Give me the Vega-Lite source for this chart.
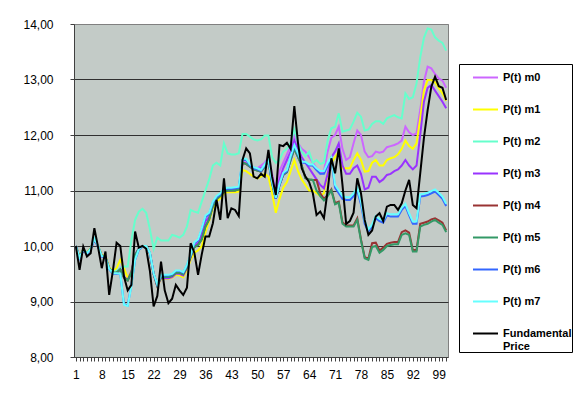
{
"$schema": "https://vega.github.io/schema/vega-lite/v6.json",
"width": 374, "height": 333,
"autosize": "none",
"padding": {"left": 74, "top": 24, "right": 134, "bottom": 42},
"background": "white",
"config": {"font": "Liberation Sans", "view": {"fill": "#C3CBC7", "stroke": "#808080", "strokeWidth": 1}},
"data": {"values": [
{"t":1,"m0":10.0,"m1":10.0,"m2":10.0,"m3":10.0,"m4":10.0,"m5":10.0,"m6":10.0,"m7":10.0,"F":10.0},
{"t":2,"m0":9.8,"m1":9.82,"m2":9.8,"m3":9.79,"m4":9.8,"m5":9.8,"m6":9.78,"m7":9.79,"F":9.57},
{"t":3,"m0":9.93,"m1":9.94,"m2":9.93,"m3":9.92,"m4":9.93,"m5":9.93,"m6":9.92,"m7":9.93,"F":9.99},
{"t":4,"m0":9.87,"m1":9.88,"m2":9.87,"m3":9.86,"m4":9.87,"m5":9.87,"m6":9.86,"m7":9.87,"F":9.81},
{"t":5,"m0":9.95,"m1":9.96,"m2":9.95,"m3":9.94,"m4":9.95,"m5":9.95,"m6":9.94,"m7":9.95,"F":9.87},
{"t":6,"m0":10.12,"m1":10.12,"m2":10.13,"m3":10.11,"m4":10.12,"m5":10.12,"m6":10.12,"m7":10.13,"F":10.32},
{"t":7,"m0":10.0,"m1":10.0,"m2":10.0,"m3":9.99,"m4":10.0,"m5":10.0,"m6":9.99,"m7":10.0,"F":9.98},
{"t":8,"m0":9.82,"m1":9.84,"m2":9.82,"m3":9.81,"m4":9.82,"m5":9.82,"m6":9.81,"m7":9.82,"F":9.6},
{"t":9,"m0":9.8,"m1":9.82,"m2":9.8,"m3":9.79,"m4":9.8,"m5":9.8,"m6":9.79,"m7":9.8,"F":9.9},
{"t":10,"m0":9.6,"m1":9.62,"m2":9.6,"m3":9.59,"m4":9.6,"m5":9.6,"m6":9.58,"m7":9.59,"F":9.12},
{"t":11,"m0":9.52,"m1":9.55,"m2":9.53,"m3":9.51,"m4":9.52,"m5":9.52,"m6":9.5,"m7":9.51,"F":9.55},
{"t":12,"m0":9.52,"m1":9.6,"m2":9.55,"m3":9.51,"m4":9.52,"m5":9.52,"m6":9.5,"m7":9.51,"F":10.06},
{"t":13,"m0":9.6,"m1":9.75,"m2":9.6,"m3":9.58,"m4":9.58,"m5":9.58,"m6":9.5,"m7":9.5,"F":10.0},
{"t":14,"m0":9.45,"m1":9.6,"m2":9.63,"m3":9.44,"m4":9.43,"m5":9.43,"m6":8.95,"m7":8.94,"F":9.45},
{"t":15,"m0":9.4,"m1":9.42,"m2":9.63,"m3":9.39,"m4":9.38,"m5":9.38,"m6":8.93,"m7":8.92,"F":9.2},
{"t":16,"m0":9.55,"m1":9.55,"m2":10.1,"m3":9.54,"m4":9.52,"m5":9.52,"m6":9.3,"m7":9.28,"F":9.3},
{"t":17,"m0":9.85,"m1":9.83,"m2":10.47,"m3":9.84,"m4":9.84,"m5":9.84,"m6":9.75,"m7":9.76,"F":10.26},
{"t":18,"m0":9.96,"m1":9.95,"m2":10.62,"m3":9.95,"m4":9.95,"m5":9.95,"m6":9.93,"m7":9.94,"F":9.97},
{"t":19,"m0":10.0,"m1":9.99,"m2":10.67,"m3":10.0,"m4":10.0,"m5":10.0,"m6":9.99,"m7":10.0,"F":10.0},
{"t":20,"m0":10.0,"m1":9.99,"m2":10.6,"m3":9.99,"m4":10.0,"m5":10.0,"m6":9.99,"m7":10.0,"F":9.95},
{"t":21,"m0":9.87,"m1":9.85,"m2":10.3,"m3":9.86,"m4":9.87,"m5":9.87,"m6":9.87,"m7":9.88,"F":9.55},
{"t":22,"m0":9.5,"m1":9.48,"m2":9.95,"m3":9.49,"m4":9.5,"m5":9.5,"m6":9.5,"m7":9.51,"F":8.91},
{"t":23,"m0":9.28,"m1":9.27,"m2":10.15,"m3":9.27,"m4":9.28,"m5":9.28,"m6":9.3,"m7":9.31,"F":9.1},
{"t":24,"m0":9.42,"m1":9.41,"m2":10.1,"m3":9.42,"m4":9.44,"m5":9.44,"m6":9.47,"m7":9.48,"F":9.72},
{"t":25,"m0":9.42,"m1":9.41,"m2":10.1,"m3":9.42,"m4":9.44,"m5":9.44,"m6":9.47,"m7":9.48,"F":9.2},
{"t":26,"m0":9.42,"m1":9.41,"m2":10.1,"m3":9.42,"m4":9.44,"m5":9.44,"m6":9.47,"m7":9.48,"F":8.97},
{"t":27,"m0":9.44,"m1":9.43,"m2":10.2,"m3":9.44,"m4":9.46,"m5":9.46,"m6":9.49,"m7":9.5,"F":9.05},
{"t":28,"m0":9.5,"m1":9.48,"m2":10.18,"m3":9.5,"m4":9.52,"m5":9.52,"m6":9.55,"m7":9.56,"F":9.3},
{"t":29,"m0":9.5,"m1":9.47,"m2":10.15,"m3":9.5,"m4":9.52,"m5":9.52,"m6":9.55,"m7":9.56,"F":9.2},
{"t":30,"m0":9.47,"m1":9.44,"m2":10.2,"m3":9.47,"m4":9.49,"m5":9.49,"m6":9.52,"m7":9.53,"F":9.12},
{"t":31,"m0":9.6,"m1":9.57,"m2":10.35,"m3":9.6,"m4":9.62,"m5":9.62,"m6":9.65,"m7":9.66,"F":9.25},
{"t":32,"m0":9.8,"m1":9.75,"m2":10.65,"m3":9.8,"m4":9.81,"m5":9.81,"m6":9.83,"m7":9.84,"F":10.05},
{"t":33,"m0":10.0,"m1":9.88,"m2":10.62,"m3":10.0,"m4":9.98,"m5":9.98,"m6":10.05,"m7":10.07,"F":9.88},
{"t":34,"m0":10.05,"m1":9.92,"m2":10.6,"m3":10.05,"m4":10.02,"m5":10.02,"m6":10.1,"m7":10.12,"F":9.48},
{"t":35,"m0":10.22,"m1":10.0,"m2":10.8,"m3":10.22,"m4":10.12,"m5":10.12,"m6":10.3,"m7":10.32,"F":9.85},
{"t":36,"m0":10.45,"m1":10.25,"m2":11.0,"m3":10.45,"m4":10.35,"m5":10.35,"m6":10.52,"m7":10.55,"F":10.17},
{"t":37,"m0":10.52,"m1":10.45,"m2":11.2,"m3":10.52,"m4":10.48,"m5":10.48,"m6":10.58,"m7":10.6,"F":10.17},
{"t":38,"m0":10.75,"m1":10.68,"m2":11.45,"m3":10.75,"m4":10.72,"m5":10.72,"m6":10.78,"m7":10.8,"F":10.41},
{"t":39,"m0":10.86,"m1":10.8,"m2":11.5,"m3":10.86,"m4":10.84,"m5":10.84,"m6":10.88,"m7":10.9,"F":10.83},
{"t":40,"m0":10.92,"m1":10.86,"m2":11.45,"m3":10.92,"m4":10.9,"m5":10.9,"m6":10.93,"m7":10.95,"F":10.47},
{"t":41,"m0":11.0,"m1":10.95,"m2":11.85,"m3":11.0,"m4":10.98,"m5":10.98,"m6":11.02,"m7":11.04,"F":11.22},
{"t":42,"m0":11.0,"m1":10.97,"m2":11.67,"m3":11.0,"m4":11.0,"m5":11.0,"m6":11.03,"m7":11.05,"F":10.5},
{"t":43,"m0":11.0,"m1":10.97,"m2":11.65,"m3":11.0,"m4":11.0,"m5":11.0,"m6":11.03,"m7":11.05,"F":10.68},
{"t":44,"m0":11.02,"m1":10.97,"m2":11.65,"m3":11.02,"m4":11.0,"m5":11.0,"m6":11.04,"m7":11.06,"F":10.65},
{"t":45,"m0":11.03,"m1":10.98,"m2":11.67,"m3":11.03,"m4":11.02,"m5":11.02,"m6":11.05,"m7":11.07,"F":10.54},
{"t":46,"m0":11.52,"m1":11.37,"m2":12.02,"m3":11.5,"m4":11.5,"m5":11.5,"m6":11.55,"m7":11.57,"F":11.55},
{"t":47,"m0":11.5,"m1":11.35,"m2":12.02,"m3":11.48,"m4":11.48,"m5":11.48,"m6":11.55,"m7":11.57,"F":11.76},
{"t":48,"m0":11.45,"m1":11.3,"m2":11.97,"m3":11.43,"m4":11.43,"m5":11.43,"m6":11.45,"m7":11.47,"F":11.67},
{"t":49,"m0":11.42,"m1":11.25,"m2":11.92,"m3":11.4,"m4":11.38,"m5":11.38,"m6":11.4,"m7":11.42,"F":11.25},
{"t":50,"m0":11.4,"m1":11.22,"m2":11.9,"m3":11.38,"m4":11.36,"m5":11.36,"m6":11.38,"m7":11.4,"F":11.22},
{"t":51,"m0":11.45,"m1":11.25,"m2":11.92,"m3":11.4,"m4":11.34,"m5":11.34,"m6":11.35,"m7":11.37,"F":11.3},
{"t":52,"m0":11.5,"m1":11.3,"m2":11.99,"m3":11.45,"m4":11.43,"m5":11.43,"m6":11.45,"m7":11.47,"F":11.25},
{"t":53,"m0":11.6,"m1":11.25,"m2":11.99,"m3":11.55,"m4":11.53,"m5":11.53,"m6":11.55,"m7":11.57,"F":11.73},
{"t":54,"m0":11.3,"m1":10.95,"m2":11.6,"m3":11.2,"m4":11.13,"m5":11.13,"m6":11.15,"m7":11.17,"F":11.25},
{"t":55,"m0":11.0,"m1":10.6,"m2":11.5,"m3":10.92,"m4":10.85,"m5":10.85,"m6":10.85,"m7":10.87,"F":10.92},
{"t":56,"m0":11.35,"m1":10.85,"m2":11.55,"m3":11.2,"m4":11.1,"m5":11.1,"m6":11.1,"m7":11.12,"F":11.82},
{"t":57,"m0":11.5,"m1":11.05,"m2":11.7,"m3":11.4,"m4":11.28,"m5":11.28,"m6":11.3,"m7":11.32,"F":11.8},
{"t":58,"m0":11.65,"m1":11.15,"m2":11.75,"m3":11.55,"m4":11.33,"m5":11.33,"m6":11.35,"m7":11.37,"F":11.86},
{"t":59,"m0":11.8,"m1":11.35,"m2":11.85,"m3":11.7,"m4":11.55,"m5":11.55,"m6":11.6,"m7":11.62,"F":11.75},
{"t":60,"m0":12.0,"m1":11.55,"m2":12.1,"m3":11.9,"m4":11.75,"m5":11.75,"m6":11.8,"m7":11.82,"F":12.52},
{"t":61,"m0":11.85,"m1":11.35,"m2":11.85,"m3":11.75,"m4":11.6,"m5":11.6,"m6":11.65,"m7":11.67,"F":11.85},
{"t":62,"m0":11.75,"m1":11.2,"m2":11.7,"m3":11.6,"m4":11.45,"m5":11.45,"m6":11.5,"m7":11.52,"F":11.4},
{"t":63,"m0":11.7,"m1":11.1,"m2":11.62,"m3":11.5,"m4":11.22,"m5":11.22,"m6":11.5,"m7":11.52,"F":11.25},
{"t":64,"m0":11.6,"m1":11.0,"m2":11.7,"m3":11.4,"m4":11.2,"m5":11.2,"m6":11.45,"m7":11.47,"F":11.15},
{"t":65,"m0":11.5,"m1":11.0,"m2":11.5,"m3":11.3,"m4":11.19,"m5":11.19,"m6":11.45,"m7":11.47,"F":10.95},
{"t":66,"m0":11.4,"m1":10.95,"m2":11.55,"m3":11.2,"m4":11.19,"m5":11.0,"m6":11.37,"m7":11.4,"F":10.56},
{"t":67,"m0":11.3,"m1":10.9,"m2":11.48,"m3":11.1,"m4":10.95,"m5":10.9,"m6":11.3,"m7":11.35,"F":10.62},
{"t":68,"m0":11.35,"m1":10.95,"m2":11.5,"m3":11.04,"m4":10.85,"m5":10.82,"m6":11.3,"m7":11.35,"F":10.5},
{"t":69,"m0":11.7,"m1":11.3,"m2":11.9,"m3":11.3,"m4":10.92,"m5":10.9,"m6":11.45,"m7":11.5,"F":11.0},
{"t":70,"m0":11.95,"m1":11.5,"m2":12.12,"m3":11.6,"m4":11.02,"m5":11.0,"m6":11.55,"m7":11.6,"F":11.58},
{"t":71,"m0":12.0,"m1":11.6,"m2":12.15,"m3":11.7,"m4":10.77,"m5":10.75,"m6":11.05,"m7":11.1,"F":11.31},
{"t":72,"m0":12.15,"m1":11.7,"m2":12.39,"m3":11.85,"m4":10.8,"m5":10.78,"m6":10.95,"m7":11.0,"F":11.76},
{"t":73,"m0":11.75,"m1":11.4,"m2":12.06,"m3":11.45,"m4":10.43,"m5":10.4,"m6":10.85,"m7":10.9,"F":11.1},
{"t":74,"m0":11.55,"m1":11.4,"m2":12.08,"m3":11.3,"m4":10.37,"m5":10.35,"m6":10.83,"m7":10.88,"F":10.4},
{"t":75,"m0":11.6,"m1":11.4,"m2":12.1,"m3":11.3,"m4":10.37,"m5":10.35,"m6":10.83,"m7":10.88,"F":10.45},
{"t":76,"m0":11.85,"m1":11.55,"m2":12.24,"m3":11.4,"m4":10.37,"m5":10.35,"m6":10.9,"m7":10.95,"F":10.6},
{"t":77,"m0":12.08,"m1":11.67,"m2":12.4,"m3":11.45,"m4":10.5,"m5":10.47,"m6":11.0,"m7":11.05,"F":11.22},
{"t":78,"m0":12.0,"m1":11.55,"m2":12.33,"m3":11.3,"m4":10.12,"m5":10.1,"m6":10.75,"m7":10.8,"F":10.95},
{"t":79,"m0":11.7,"m1":11.34,"m2":12.08,"m3":11.02,"m4":9.8,"m5":9.78,"m6":10.4,"m7":10.45,"F":10.47},
{"t":80,"m0":11.6,"m1":11.35,"m2":12.1,"m3":11.05,"m4":9.77,"m5":9.75,"m6":10.26,"m7":10.3,"F":10.2},
{"t":81,"m0":11.62,"m1":11.5,"m2":12.2,"m3":11.25,"m4":10.05,"m5":9.98,"m6":10.35,"m7":10.39,"F":10.28},
{"t":82,"m0":11.7,"m1":11.55,"m2":12.25,"m3":11.25,"m4":10.06,"m5":10.0,"m6":10.5,"m7":10.54,"F":10.53},
{"t":83,"m0":11.68,"m1":11.45,"m2":12.25,"m3":11.15,"m4":9.92,"m5":9.88,"m6":10.45,"m7":10.49,"F":10.59},
{"t":84,"m0":11.7,"m1":11.45,"m2":12.2,"m3":11.2,"m4":9.97,"m5":9.93,"m6":10.42,"m7":10.46,"F":10.45},
{"t":85,"m0":11.78,"m1":11.55,"m2":12.3,"m3":11.28,"m4":10.04,"m5":10.0,"m6":10.55,"m7":10.59,"F":10.71},
{"t":86,"m0":11.8,"m1":11.58,"m2":12.33,"m3":11.3,"m4":10.06,"m5":10.02,"m6":10.53,"m7":10.57,"F":10.74},
{"t":87,"m0":11.82,"m1":11.6,"m2":12.36,"m3":11.35,"m4":10.07,"m5":10.03,"m6":10.53,"m7":10.57,"F":10.74},
{"t":88,"m0":11.85,"m1":11.65,"m2":12.32,"m3":11.38,"m4":10.07,"m5":10.03,"m6":10.53,"m7":10.57,"F":10.65},
{"t":89,"m0":11.9,"m1":11.75,"m2":12.3,"m3":11.45,"m4":10.25,"m5":10.2,"m6":10.65,"m7":10.69,"F":10.77},
{"t":90,"m0":12.15,"m1":11.9,"m2":12.75,"m3":11.55,"m4":10.28,"m5":10.23,"m6":10.72,"m7":10.76,"F":11.0},
{"t":91,"m0":12.05,"m1":11.8,"m2":12.65,"m3":11.45,"m4":10.24,"m5":10.2,"m6":10.55,"m7":10.59,"F":11.19},
{"t":92,"m0":12.0,"m1":11.75,"m2":12.68,"m3":11.38,"m4":9.93,"m5":9.9,"m6":10.4,"m7":10.44,"F":10.74},
{"t":93,"m0":12.03,"m1":11.85,"m2":12.93,"m3":11.45,"m4":9.93,"m5":9.9,"m6":10.4,"m7":10.44,"F":10.68},
{"t":94,"m0":12.45,"m1":12.3,"m2":13.4,"m3":12.0,"m4":10.4,"m5":10.35,"m6":10.89,"m7":10.93,"F":11.31},
{"t":95,"m0":12.96,"m1":12.8,"m2":13.75,"m3":12.6,"m4":10.42,"m5":10.38,"m6":10.9,"m7":10.94,"F":11.95},
{"t":96,"m0":13.23,"m1":12.99,"m2":13.92,"m3":12.85,"m4":10.44,"m5":10.4,"m6":10.92,"m7":10.96,"F":12.45},
{"t":97,"m0":13.2,"m1":12.99,"m2":13.9,"m3":12.9,"m4":10.48,"m5":10.44,"m6":10.95,"m7":10.99,"F":12.87},
{"t":98,"m0":13.1,"m1":12.95,"m2":13.76,"m3":12.8,"m4":10.5,"m5":10.47,"m6":10.98,"m7":11.02,"F":13.05},
{"t":99,"m0":13.02,"m1":12.85,"m2":13.7,"m3":12.7,"m4":10.46,"m5":10.42,"m6":10.92,"m7":10.96,"F":12.88},
{"t":100,"m0":12.98,"m1":12.75,"m2":13.66,"m3":12.6,"m4":10.42,"m5":10.38,"m6":10.85,"m7":10.89,"F":12.85},
{"t":101,"m0":12.85,"m1":12.62,"m2":13.52,"m3":12.48,"m4":10.28,"m5":10.25,"m6":10.72,"m7":10.76,"F":12.63}
]},
"transform": [{"fold": ["m0","m1","m2","m3","m4","m5","m6","m7","F"], "as": ["series","value"]}],
"encoding": {
  "x": {"field": "t", "type": "quantitative", "scale": {"domain": [0.5, 101.5], "nice": false, "zero": false},
        "axis": {"title": null, "values": [1,2,3,4,5,6,7,8,9,10,11,12,13,14,15,16,17,18,19,20,21,22,23,24,25,26,27,28,29,30,31,32,33,34,35,36,37,38,39,40,41,42,43,44,45,46,47,48,49,50,51,52,53,54,55,56,57,58,59,60,61,62,63,64,65,66,67,68,69,70,71,72,73,74,75,76,77,78,79,80,81,82,83,84,85,86,87,88,89,90,91,92,93,94,95,96,97,98,99,100,101],
                 "labelExpr": "(datum.value - 1) % 7 == 0 ? datum.value : ''", "labelOverlap": false, "labelFlush": false,
                 "labelFontSize": 12, "labelColor": "black", "tickSize": 4, "tickColor": "#404040", "domainColor": "#404040", "labelPadding": 8, "grid": false}},
  "y": {"field": "value", "type": "quantitative", "scale": {"domain": [8, 14], "nice": false, "zero": false},
        "axis": {"title": null, "values": [8,9,10,11,12,13,14], "labelExpr": "replace(format(datum.value, '.2f'), '.', ',')",
                 "labelFontSize": 12, "labelColor": "black", "tickSize": 4, "tickColor": "#404040", "domainColor": "#404040", "labelPadding": 17,
                 "grid": true, "gridColor": {"condition": {"test": "datum.value == 14 || datum.value == 8", "value": "#808080"}, "value": "#303030"}, "gridWidth": 1}},
  "color": {"field": "series", "type": "nominal",
            "scale": {"domain": ["m0","m1","m2","m3","m4","m5","m6","m7","F"], "range": ["#CC66FF","#FFFF00","#66FFCC","#9933FF","#993333","#339966","#3366FF","#66FFFF","#000000"]},
            "legend": {"orient": "none", "legendX": 385, "legendY": 40, "title": null, "symbolType": "stroke", "symbolSize": 625, "symbolOffset": 13,
                       "labelOffset": 4, "labelFont": "Liberation Sans", "labelFontSize": 11, "labelFontWeight": "bold", "labelColor": "black",
                       "rowPadding": 13, "padding": 0, "fillColor": "white", "strokeColor": "#000000", "labelLimit": 200,
                       "labelExpr": "datum.label == 'F' ? ['Fundamental', 'Price'] : 'P(t) ' + datum.label"}},
  "strokeWidth": {"field": "series", "type": "ordinal",
            "scale": {"domain": ["m0","m1","m2","m3","m4","m5","m6","m7","F"], "range": [2,2,2,2,2,2,2,2,3.5]}}
},
"layer": [
  {"transform": [{"filter": "datum.series != 'F'"}], "mark": {"type": "line", "clip": true}},
  {"transform": [{"filter": "datum.series == 'F'"}], "mark": {"type": "line", "clip": true}}
]
}
